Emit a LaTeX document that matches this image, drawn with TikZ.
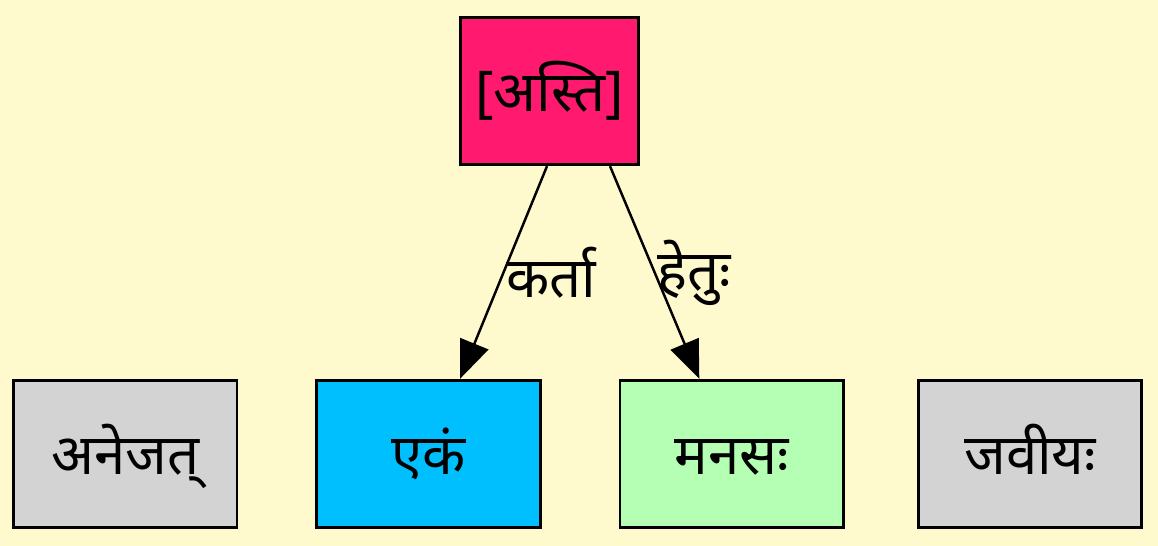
\documentclass[tikz,border=0pt]{standalone}
\usepackage{fontspec}
\setmainfont{Noto Sans}[Script=Devanagari]
\usepackage{tikz}
\usetikzlibrary{arrows.meta,positioning}
\definecolor{figbg}{RGB}{255,249,206}
\definecolor{figroot}{RGB}{255,26,112}
\definecolor{figsubj}{RGB}{0,191,255}
\definecolor{figcause}{RGB}{180,255,180}
\definecolor{figrest}{RGB}{211,211,211}
\tikzset{
  wd/.style  ={draw=black, line width=1.6pt, minimum height=2.95cm, inner sep=0pt,
               text height=26pt, text depth=3pt, font=\fontsize{32}{38}\selectfont},
  wdb/.style ={wd, minimum width=4.47cm},
  rel/.style ={draw=black, line width=1.4pt, -{Triangle[length=0.76cm,width=0.6cm]}},
  lab/.style ={font=\fontsize{32}{38}\selectfont, inner sep=1pt},
}

\begin{document}
\begin{tikzpicture}
  \fill[figbg] (0,0) rectangle (23.16,10.92);
  \useasboundingbox (0,0) rectangle (23.16,10.92);
  \node[wd,fill=figroot,minimum width=3.57cm] (asti) at (10.99,9.10) {[अस्ति]};
  \node[wdb,fill=figsubj] (ekam) at (8.57,1.84) {एकं};
  \node[wdb,fill=figrest,left=1.54cm of ekam] (anejat) {अनेजत्};
  \node[wdb,fill=figcause,right=1.54cm of ekam] (manas) {मनसः};
  \node[wdb,fill=figrest,right=1.44cm of manas] (javiyas) {जवीयः};
  \draw[rel] ([xshift=-0.05cm]asti.south) -- node[lab,right] {कर्ता} ([xshift=0.63cm]ekam.north);
  \draw[rel] ([xshift=1.21cm]asti.south) -- node[lab,right] {हेतुः} ([xshift=-0.65cm]manas.north);
\end{tikzpicture}
\end{document}
